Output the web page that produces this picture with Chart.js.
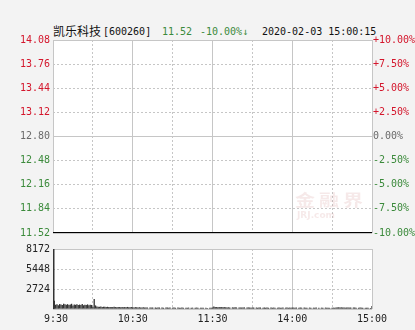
<!DOCTYPE html>
<html><head><meta charset="utf-8">
<script src="https://cdn.jsdelivr.net/npm/chart.js@4.4.1/dist/chart.umd.min.js"></script>
<style>
html,body{margin:0;padding:0;background:#f3f3f3;width:415px;height:330px;overflow:hidden;position:relative}
canvas{position:absolute;left:0}
#c1{top:0}
#c2{top:240px}
.t{position:absolute;top:25px;font:10px "DejaVu Sans Mono",monospace;line-height:14px;white-space:nowrap;color:#111}
.wm{position:absolute;left:295px;top:188px;color:rgba(200,120,120,0.16);font:bold 20px "Noto Sans CJK SC";letter-spacing:4px;transform:scaleY(0.8);transform-origin:0 0;pointer-events:none}
.wm2{position:absolute;left:297px;top:210px;color:rgba(200,120,120,0.16);font:bold 9px "DejaVu Sans";pointer-events:none}
</style></head><body>
<div class="t" style="left:53px;top:23px;font:12px 'Noto Sans CJK SC';line-height:16px">凯乐科技</div>
<div class="t" style="left:103px">[600260]</div>
<div class="t" style="left:162px;color:#3b8a3b">11.52</div>
<div class="t" style="left:200px;color:#3b8a3b">-10.00%↓</div>
<div class="t" style="left:262px">2020-02-03 15:00:15</div>
<canvas id="c1" width="415" height="246"></canvas>
<canvas id="c2" width="415" height="90"></canvas>
<div class="wm">金融界</div>
<div class="wm2">JRJ.com</div>
<script>
const timeLabels = ['\u00a09:30','10:30','11:30','14:00','15:00'];
const timeTickPos = [0,60,120,180,240];
const gridPos = [0,30,60,90,120,150,180,210,240];
const priceTicks = [11.52,11.84,12.16,12.48,12.80,13.12,13.44,13.76,14.08];
const priceTickLabels = ['11.52','11.84','12.16','12.48','12.80','13.12','13.44','13.76','14.08'];
const pctTicks = [-10,-7.5,-5,-2.5,0,2.5,5,7.5,10];
const pctTickLabels = ['-10.00%','-7.50%','-5.00%','-2.50%','0.00%','+2.50%','+5.00%','+7.50%','+10.00%'];
const volTicks = [0,2724,5448,8172];
const volTickLabels = ['','2724','5448','8172'];
const prevClose = 12.80;

const price = [
11.52,11.52,11.52,11.52,11.52,11.52,11.52,11.52,11.52,11.52,
11.52,11.52,11.52,11.52,11.52,11.52,11.52,11.52,11.52,11.52,
11.52,11.52,11.52,11.52,11.52,11.52,11.52,11.52,11.52,11.52,
11.52,11.52,11.52,11.52,11.52,11.52,11.52,11.52,11.52,11.52,
11.52,11.52,11.52,11.52,11.52,11.52,11.52,11.52,11.52,11.52,
11.52,11.52,11.52,11.52,11.52,11.52,11.52,11.52,11.52,11.52,
11.52,11.52,11.52,11.52,11.52,11.52,11.52,11.52,11.52,11.52,
11.52,11.52,11.52,11.52,11.52,11.52,11.52,11.52,11.52,11.52,
11.52,11.52,11.52,11.52,11.52,11.52,11.52,11.52,11.52,11.52,
11.52,11.52,11.52,11.52,11.52,11.52,11.52,11.52,11.52,11.52,
11.52,11.52,11.52,11.52,11.52,11.52,11.52,11.52,11.52,11.52,
11.52,11.52,11.52,11.52,11.52,11.52,11.52,11.52,11.52,11.52,
11.52,
11.52,11.52,11.52,11.52,11.52,11.52,11.52,11.52,11.52,11.52,
11.52,11.52,11.52,11.52,11.52,11.52,11.52,11.52,11.52,11.52,
11.52,11.52,11.52,11.52,11.52,11.52,11.52,11.52,11.52,11.52,
11.52,11.52,11.52,11.52,11.52,11.52,11.52,11.52,11.52,11.52,
11.52,11.52,11.52,11.52,11.52,11.52,11.52,11.52,11.52,11.52,
11.52,11.52,11.52,11.52,11.52,11.52,11.52,11.52,11.52,11.52,
11.52,11.52,11.52,11.52,11.52,11.52,11.52,11.52,11.52,11.52,
11.52,11.52,11.52,11.52,11.52,11.52,11.52,11.52,11.52,11.52,
11.52,11.52,11.52,11.52,11.52,11.52,11.52,11.52,11.52,11.52,
11.52,11.52,11.52,11.52,11.52,11.52,11.52,11.52,11.52,11.52,
11.52,11.52,11.52,11.52,11.52,11.52,11.52,11.52,11.52,11.52,
11.52,11.52,11.52,11.52,11.52,11.52,11.52,11.52,11.52,11.52
];

const volume = [
8172,1100,560,620,480,650,590,530,700,610,
560,640,520,580,690,470,600,550,620,510,
580,540,660,490,570,520,610,480,560,530,
280,1350,470,330,300,280,310,260,290,270,
250,280,240,260,230,250,270,240,220,260,
240,230,250,210,240,220,260,230,210,240,
220,200,230,210,190,220,200,180,210,190,
200,180,0,190,170,200,0,180,160,190,
170,0,180,160,0,190,170,150,180,0,
160,170,150,0,180,160,140,170,150,0,
160,140,170,0,150,160,0,140,170,150,
0,150,140,160,0,150,130,0,140,150,
180,
320,260,240,230,250,220,240,210,230,220,
200,210,190,0,200,180,210,190,0,200,
180,190,170,200,0,180,190,170,160,190,
170,0,180,160,190,170,0,160,180,150,
170,160,0,180,150,170,160,0,150,170,
160,150,170,0,160,180,150,170,160,190,
170,160,180,0,150,170,160,0,180,150,
160,0,170,150,0,160,140,170,0,150,
0,160,140,0,170,150,160,140,0,150,
160,140,200,190,210,180,200,170,190,160,
180,200,170,190,0,180,170,160,0,150,
170,160,150,0,140,160,150,0,130,380
];

const FONT = {family:'"DejaVu Sans Mono", monospace', size:10};
const RED = '#d4162c', GREEN = '#3b8a3b', GRAY = '#6a6a6a';
const GRID = '#c6c6c6';
const DASH = [2,2];

const whiteArea = {
  id:'whiteArea',
  beforeDraw(chart){
    const a = chart.chartArea, ctx = chart.ctx;
    ctx.save(); ctx.fillStyle = '#ffffff';
    ctx.fillRect(a.left, a.top, a.right - a.left, a.bottom - a.top);
    ctx.restore();
  }
};

function xScale(showLabels){
  return {
    type:'linear', min:0, max:240, offset:false,
    afterBuildTicks:s=>{ s.ticks = gridPos.map(v=>({value:v})); },
    grid:{color:GRID, lineWidth:1, drawTicks:false, offset:false},
    border:{display:false, dash:c=>(c.tick && c.tick.value % 60 === 30) ? DASH : []},
    ticks:{display:showLabels, autoSkip:false, maxRotation:0, padding:4, font:FONT, color:'#222',
      callback:v=>{ const i = timeTickPos.indexOf(v); return i < 0 ? '' : timeLabels[i]; }},
    afterFit:s=>{ s.height = showLabels ? 21 : 0; }
  };
}

Chart.defaults.animation = false;

new Chart(document.getElementById('c1'), {
  type:'line',
  data:{datasets:[{
    data: price.map((v,i)=>({x:i, y:v})),
    borderColor:'#000', borderWidth:2, pointRadius:0, tension:0
  }]},
  options:{
    responsive:false, devicePixelRatio:1, animation:false,
    layout:{padding:{top:40, bottom:13, left:0, right:0}},
    plugins:{legend:{display:false}, tooltip:{enabled:false}},
    scales:{
      x: xScale(false),
      y:{
        position:'left', min:11.52, max:14.08,
        afterBuildTicks:s=>{ s.ticks = priceTicks.map(v=>({value:v})); },
        grid:{color:GRID, drawTicks:false},
        border:{display:false, dash:c=>(c.tick && c.index!==0 && c.index!==priceTicks.length-1 && priceTicks[c.index]!==prevClose) ? DASH : []},
        ticks:{padding:3, font:FONT,
          color:c=>{ const v = priceTicks[c.index]; return v > prevClose ? RED : (v < prevClose ? GREEN : GRAY); },
          callback:(v,i)=>priceTickLabels[i]},
        afterFit:s=>{ s.width = 53; }
      },
      y2:{
        position:'right', min:-10, max:10,
        afterBuildTicks:s=>{ s.ticks = pctTicks.map(v=>({value:v})); },
        grid:{drawOnChartArea:false, drawTicks:false},
        border:{display:false},
        ticks:{padding:1, font:FONT,
          color:c=>{ const v = pctTicks[c.index]; return v > 0 ? RED : (v < 0 ? GREEN : GRAY); },
          callback:(v,i)=>pctTickLabels[i]},
        afterFit:s=>{ s.width = 43; }
      }
    }
  },
  plugins:[whiteArea]
});

new Chart(document.getElementById('c2'), {
  type:'bar',
  data:{datasets:[{
    data: volume.map((v,i)=>({x:i, y:v})),
    backgroundColor:'#333', borderWidth:0, barThickness:1,
    inflateAmount:c=> c.dataIndex === 0 ? 1 : 0.15
  }]},
  options:{
    responsive:false, devicePixelRatio:1, animation:false,
    layout:{padding:{top:8, bottom:0, left:0, right:43}},
    plugins:{legend:{display:false}, tooltip:{enabled:false}},
    scales:{
      x: xScale(true),
      y:{
        position:'left', min:0, max:8172,
        afterBuildTicks:s=>{ s.ticks = volTicks.map(v=>({value:v})); },
        grid:{color:GRID, drawTicks:false},
        border:{display:false, dash:c=>(c.tick && c.index!==0 && c.index!==volTicks.length-1) ? DASH : []},
        ticks:{padding:3, font:FONT, color:'#222', callback:(v,i)=>volTickLabels[i]},
        afterFit:s=>{ s.width = 53; }
      }
    }
  },
  plugins:[whiteArea]
});
</script>
</body></html>
